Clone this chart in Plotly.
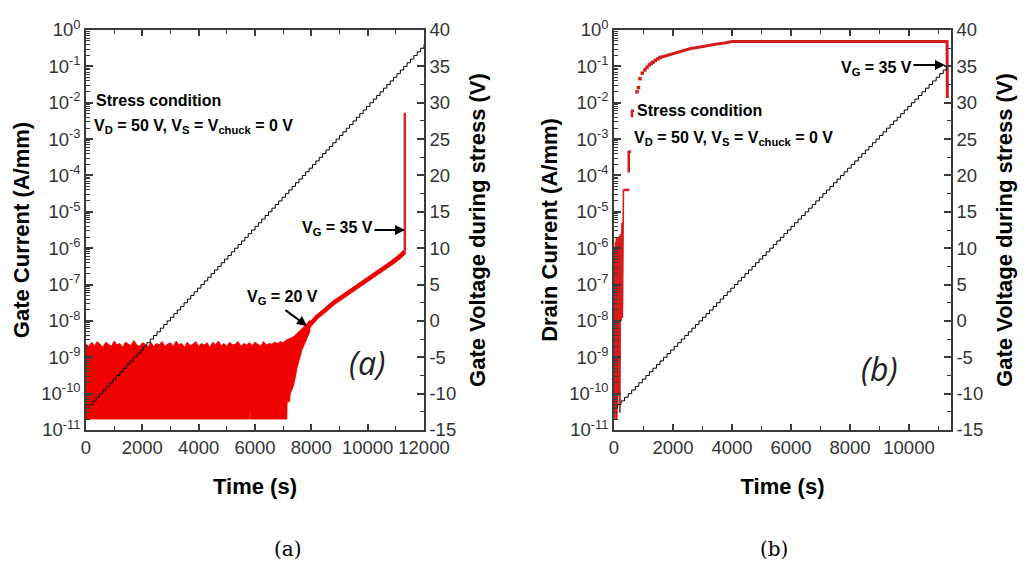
import plotly.graph_objects as go

W, H = 1024, 567

# ---------------- Panel (a): gate current ----------------
# gate-voltage staircase (0.5 V per step)
vg_a_time = [0, 120, 240, 360, 480, 600, 720, 840, 960, 1080, 1200, 1320, 1440, 1560,
             1680, 1800, 1920, 2040, 2160, 2280, 2400, 2520, 2640, 2760, 2880, 3000,
             3120, 3240, 3360, 3480, 3600, 3720, 3840, 3960, 4080, 4200, 4320, 4440,
             4560, 4680, 4800, 4920, 5040, 5160, 5280, 5400, 5520, 5640, 5760, 5880,
             6000, 6120, 6240, 6360, 6480, 6600, 6720, 6840, 6960, 7080, 7200, 7320,
             7440, 7560, 7680, 7800, 7920, 8040, 8160, 8280, 8400, 8520, 8640, 8760,
             8880, 9000, 9120, 9240, 9360, 9480, 9600, 9720, 9840, 9960, 10080, 10200,
             10320, 10440, 10560, 10680, 10800, 10920, 11040, 11160, 11280, 11400,
             11520, 11640, 11760, 11880, 12000]
vg_a_volt = [-12.0, -11.5, -11.0, -10.5, -10.0, -9.5, -9.0, -8.5, -8.0, -7.5, -7.0,
             -6.5, -6.0, -5.5, -5.0, -4.5, -4.0, -3.5, -3.0, -2.5, -2.0, -1.5, -1.0,
             -0.5, 0.0, 0.5, 1.0, 1.5, 2.0, 2.5, 3.0, 3.5, 4.0, 4.5, 5.0, 5.5, 6.0, 6.5,
             7.0, 7.5, 8.0, 8.5, 9.0, 9.5, 10.0, 10.5, 11.0, 11.5, 12.0, 12.5, 13.0,
             13.5, 14.0, 14.5, 15.0, 15.5, 16.0, 16.5, 17.0, 17.5, 18.0, 18.5, 19.0,
             19.5, 20.0, 20.5, 21.0, 21.5, 22.0, 22.5, 23.0, 23.5, 24.0, 24.5, 25.0,
             25.5, 26.0, 26.5, 27.0, 27.5, 28.0, 28.5, 29.0, 29.5, 30.0, 30.5, 31.0,
             31.5, 32.0, 32.5, 33.0, 33.5, 34.0, 34.5, 35.0, 35.5, 36.0, 36.5, 37.0,
             37.5, 38.0]

# noise band of the gate current: upper and lower envelopes
ig_upper_time = [0, 100, 200, 300, 400, 500, 600, 700, 800, 900, 1000, 1100, 1200, 1300,
                 1400, 1500, 1600, 1700, 1800, 1900, 2000, 2100, 2200, 2300, 2400, 2500,
                 2600, 2700, 2800, 2900, 3000, 3100, 3200, 3300, 3400, 3500, 3600, 3700,
                 3800, 3900, 4000, 4100, 4200, 4300, 4400, 4500, 4600, 4700, 4800, 4900,
                 5000, 5100, 5200, 5300, 5400, 5500, 5600, 5700, 5800, 5900, 6000, 6100,
                 6200, 6300, 6400, 6500, 6600, 6700, 6800, 6900, 7000, 7080,
                 7130, 7250, 7350, 7450, 7550, 7650, 7750, 7850, 7950]
ig_upper = [2.3e-9, 2.0e-9, 2.6e-9, 2.1e-9, 2.7e-9, 2.2e-9, 1.9e-9, 2.6e-9, 2.3e-9,
            2.0e-9, 2.8e-9, 2.2e-9, 2.4e-9, 1.9e-9, 2.6e-9, 2.3e-9, 2.1e-9, 2.9e-9,
            2.2e-9, 2.0e-9, 2.5e-9, 2.3e-9, 1.9e-9, 2.6e-9, 2.0e-9, 2.4e-9, 2.2e-9,
            2.7e-9, 2.0e-9, 2.3e-9, 2.5e-9, 2.0e-9, 2.8e-9, 2.2e-9, 2.4e-9, 1.9e-9,
            2.6e-9, 2.1e-9, 2.3e-9, 2.7e-9, 2.0e-9, 2.4e-9, 2.2e-9, 2.5e-9, 1.9e-9,
            2.6e-9, 2.2e-9, 2.8e-9, 2.1e-9, 2.4e-9, 2.0e-9, 2.6e-9, 2.2e-9, 2.3e-9,
            2.7e-9, 2.0e-9, 2.4e-9, 2.2e-9, 2.5e-9, 2.1e-9, 2.6e-9, 2.3e-9, 2.0e-9,
            2.7e-9, 2.2e-9, 2.4e-9, 2.3e-9, 2.6e-9, 2.4e-9, 2.7e-9, 2.5e-9, 2.9e-9,
            3.0e-9, 3.3e-9, 3.6e-9, 4.2e-9, 5.0e-9, 5.8e-9, 7.0e-9, 8.5e-9, 1.05e-8]
ig_lower_time = [0, 5800, 5810, 5830, 5840, 7130, 7140, 7230, 7250, 7350, 7420, 7490,
                 7580, 7670, 7780, 7880, 7950]
ig_lower = [2e-11, 2e-11, 6e-11, 6e-11, 2e-11, 2e-11, 6e-11, 6e-11, 1.0e-10, 1.5e-10,
            2.5e-10, 5.0e-10, 9.0e-10, 1.6e-9, 2.6e-9, 3.8e-9, 5.0e-9]

# gate current after the onset of leakage
ig_rise_time = [7900, 8200, 8500, 8800, 9100, 9400, 9700, 10000, 10300, 10600, 10900,
                11150, 11320]
ig_rise = [7e-9, 1.3e-8, 2.0e-8, 3.2e-8, 4.6e-8, 6.6e-8, 9.5e-8, 1.35e-7, 2.0e-7,
           3.0e-7, 4.2e-7, 6.0e-7, 8.0e-7]
ig_spike_time = [11320, 11320]
ig_spike = [8.0e-7, 5.3e-3]

# ---------------- Panel (b): drain current ----------------
vg_b_time = vg_a_time[:95]
vg_b_volt = vg_a_volt[:95]

id_early_time = [0, 5, 20, 35, 50, 65, 80, 95, 110, 125, 140, 160, 180, 200, 220, 240,
                 255, 270, 285, 300, 320, 340]
id_early = [3e-7, 2e-11, 1e-6, 2e-11, 1.5e-6, 3e-11, 2e-6, 2e-11, 1.8e-6, 5e-11, 2e-6,
            1e-10, 2.2e-6, 3e-11, 2.5e-6, 1e-8, 3e-6, 5e-6, 1.2e-8, 5e-6, 4e-5, 4e-5]
id_step_time = [340, 520, None, 500, 500, 580, None, 610, 610, 680]
id_step = [4e-5, 4e-5, None, 1.2e-4, 4.5e-4, 4.5e-4, None, 4e-3, 6e-3, 6e-3]
id_dot_time = [780, 830, 880, 960, 1050, 1120, 1200, 1260, 1320, 1400, 1480, 1560]
id_dot = [2.0e-2, 2.6e-2, 4.6e-2, 6.5e-2, 8.0e-2, 9.5e-2, 1.1e-1, 1.2e-1, 1.3e-1,
          1.45e-1, 1.6e-1, 1.75e-1]
id_sat_time = [1560, 1800, 2100, 2340, 2600, 2920, 3200, 3490, 3750, 3930, 4000, 11290,
               11300]
id_sat = [1.75e-1, 2.0e-1, 2.45e-1, 2.8e-1, 3.1e-1, 3.4e-1, 3.8e-1, 4.1e-1, 4.4e-1,
          4.7e-1, 4.8e-1, 4.8e-1, 1.35e-2]

# tick labels
log_tickvals = [1e-11, 1e-10, 1e-9, 1e-8, 1e-7, 1e-6, 1e-5, 1e-4, 1e-3, 1e-2, 1e-1, 1]
log_ticktext = ["10<sup>-11</sup>", "10<sup>-10</sup>", "10<sup>-9</sup>",
                "10<sup>-8</sup>", "10<sup>-7</sup>", "10<sup>-6</sup>",
                "10<sup>-5</sup>", "10<sup>-4</sup>", "10<sup>-3</sup>",
                "10<sup>-2</sup>", "10<sup>-1</sup>", "10<sup>0</sup>"]
volt_ticks = [-15, -10, -5, 0, 5, 10, 15, 20, 25, 30, 35, 40]
volt_text = ["-15", "-10", "-5", "0", "5", "10", "15", "20", "25", "30", "35", "40"]
time_ticks_a = [0, 2000, 4000, 6000, 8000, 10000, 12000]
time_text_a = ["0", "2000", "4000", "6000", "8000", "10000", "12000"]
time_ticks_b = [0, 2000, 4000, 6000, 8000, 10000]
time_text_b = ["0", "2000", "4000", "6000", "8000", "10000"]

RED = "#f00000"
RED_B = "#d41c1c"
AX = "#3a3a3a"
SANS = "Liberation Sans, Arial, sans-serif"


def px(x):
    return x / W


def py(y):
    return 1 - y / H


fig = go.Figure()

# panel (a) traces
fig.add_trace(go.Scatter(
    x=ig_upper_time + ig_lower_time[::-1], y=ig_upper + ig_lower[::-1],
    fill="toself", fillcolor=RED, mode="lines", line=dict(color=RED, width=0.8),
    xaxis="x", yaxis="y", hoverinfo="skip"))
fig.add_trace(go.Scatter(x=ig_rise_time, y=ig_rise, mode="lines",
                         line=dict(color=RED, width=4.5), xaxis="x", yaxis="y"))
fig.add_trace(go.Scatter(x=ig_spike_time, y=ig_spike, mode="lines",
                         line=dict(color="#cc2a2a", width=2.5), xaxis="x", yaxis="y"))
fig.add_trace(go.Scatter(x=vg_a_time, y=vg_a_volt, mode="lines", line_shape="hv",
                         line=dict(color="black", width=1), xaxis="x", yaxis="y2"))

# panel (b) traces
fig.add_trace(go.Scatter(x=id_early_time, y=id_early, mode="lines",
                         line=dict(color=RED_B, width=1.6), xaxis="x2", yaxis="y3"))
fig.add_trace(go.Scatter(x=id_step_time, y=id_step, mode="lines",
                         line=dict(color=RED_B, width=2.5), xaxis="x2", yaxis="y3"))
fig.add_trace(go.Scatter(x=id_dot_time, y=id_dot, mode="markers",
                         marker=dict(color=RED_B, size=3.5, symbol="square"),
                         xaxis="x2", yaxis="y3"))
fig.add_trace(go.Scatter(x=id_sat_time, y=id_sat, mode="lines",
                         line=dict(color=RED_B, width=3), xaxis="x2", yaxis="y3"))
fig.add_trace(go.Scatter(x=vg_b_time, y=vg_b_volt, mode="lines", line_shape="hv",
                         line=dict(color="black", width=1), xaxis="x2", yaxis="y4"))

tickfont = dict(family=SANS, size=18.5, color="#333333")
titlefont = dict(family=SANS, size=22, color="black")
ydom = [py(430), py(30)]

xcommon = dict(showline=True, linecolor=AX, linewidth=1.5, mirror="ticks",
               ticks="inside", ticklen=6, tickwidth=1.5, tickcolor=AX,
               showgrid=False, zeroline=False, tickfont=tickfont, automargin=False,
               minor=dict(ticks="inside", ticklen=4, tickwidth=1.2, tickcolor=AX,
                          dtick=1000, showgrid=False),
               title=dict(text="<b>Time (s)</b>", font=titlefont, standoff=22))
ylogcommon = dict(type="log", range=[-11, 0], showline=True, linecolor=AX,
                  linewidth=1.5, ticks="inside", ticklen=7, tickwidth=1.5,
                  tickcolor=AX, showgrid=False, zeroline=False, tickfont=tickfont,
                  tickvals=log_tickvals, ticktext=log_ticktext, domain=ydom,
                  automargin=False,
                  minor=dict(ticks="inside", ticklen=4, tickwidth=1, tickcolor=AX,
                             dtick="D1", showgrid=False))
yvcommon = dict(range=[-15, 40], side="right", showline=True, linecolor=AX,
                linewidth=1.5, ticks="inside", ticklen=7, tickwidth=1.5, tickcolor=AX,
                showgrid=False, zeroline=False, tickfont=tickfont, tickvals=volt_ticks,
                ticktext=volt_text, automargin=False,
                minor=dict(ticks="inside", ticklen=4, tickwidth=1.2, tickcolor=AX,
                           dtick=2.5, showgrid=False),
                title=dict(text="<b>Gate Voltage during stress (V)</b>", font=titlefont,
                           standoff=14))

fig.update_layout(
    width=W, height=H, margin=dict(l=0, r=0, t=0, b=0, autoexpand=False),
    paper_bgcolor="white", plot_bgcolor="white", showlegend=False,
    xaxis=dict(xcommon, domain=[px(86), px(424)], range=[0, 12000],
               tickvals=time_ticks_a, ticktext=time_text_a, anchor="y"),
    yaxis=dict(ylogcommon, anchor="x",
               title=dict(text="<b>Gate Current (A/mm)</b>", font=titlefont, standoff=6)),
    yaxis2=dict(yvcommon, overlaying="y", anchor="x"),
    xaxis2=dict(xcommon, domain=[px(614), px(951)], range=[0, 11424],
                tickvals=time_ticks_b, ticktext=time_text_b, anchor="y3"),
    yaxis3=dict(ylogcommon, anchor="x2",
                title=dict(text="<b>Drain Current (A/mm)</b>", font=titlefont, standoff=6)),
    yaxis4=dict(yvcommon, overlaying="y3", anchor="x2"),
)

bold = dict(family=SANS, size=16, color="black")
notes = [
    # panel (a)
    dict(x=px(94), y=py(100), text="<b>Stress condition</b>", xanchor="left"),
    dict(x=px(92), y=py(126), xanchor="left",
         text="<b>V<sub>D</sub> = 50 V, V<sub>S</sub> = V<sub>chuck</sub> = 0 V</b>"),
    dict(x=px(375), y=py(229), text="<b>V<sub>G</sub> = 35 V</b>", xanchor="right"),
    dict(x=px(320), y=py(297), text="<b>V<sub>G</sub> = 20 V</b>", xanchor="right"),
    # panel (b)
    dict(x=px(635), y=py(110), text="<b>Stress condition</b>", xanchor="left"),
    dict(x=px(632), y=py(138), xanchor="left",
         text="<b>V<sub>D</sub> = 50 V, V<sub>S</sub> = V<sub>chuck</sub> = 0 V</b>"),
    dict(x=px(914), y=py(68), text="<b>V<sub>G</sub> = 35 V</b>", xanchor="right"),
]
for n in notes:
    fig.add_annotation(xref="paper", yref="paper", yanchor="middle", showarrow=False,
                       font=bold, **n)

arrows = [((405, 230), (373, 230)), ((307, 326), (284, 309)), ((945, 65), (912, 65))]
for (hx, hy), (tx, ty) in arrows:
    fig.add_annotation(xref="paper", yref="paper", x=px(hx), y=py(hy),
                       ax=tx - hx, ay=ty - hy, text="", showarrow=True,
                       arrowhead=2, arrowsize=1, arrowwidth=2, arrowcolor="black")

ital = dict(family="Open Sans, sans-serif", size=32, color="#222222", style="italic")
fig.add_annotation(xref="paper", yref="paper", x=px(367), y=py(386), text="(a)",
                   showarrow=False, font=ital)
fig.add_annotation(xref="paper", yref="paper", x=px(900), y=py(392), text="(b)",
                   showarrow=False, font=ital)

serif = dict(family="DejaVu Serif, serif", size=20, color="black")
fig.add_annotation(xref="paper", yref="paper", x=px(272), y=py(549), text="(a)",
                   showarrow=False, font=serif, yanchor="middle")
fig.add_annotation(xref="paper", yref="paper", x=px(790), y=py(549), text="(b)",
                   showarrow=False, font=serif, yanchor="middle")

fig.write_html("out.html")
